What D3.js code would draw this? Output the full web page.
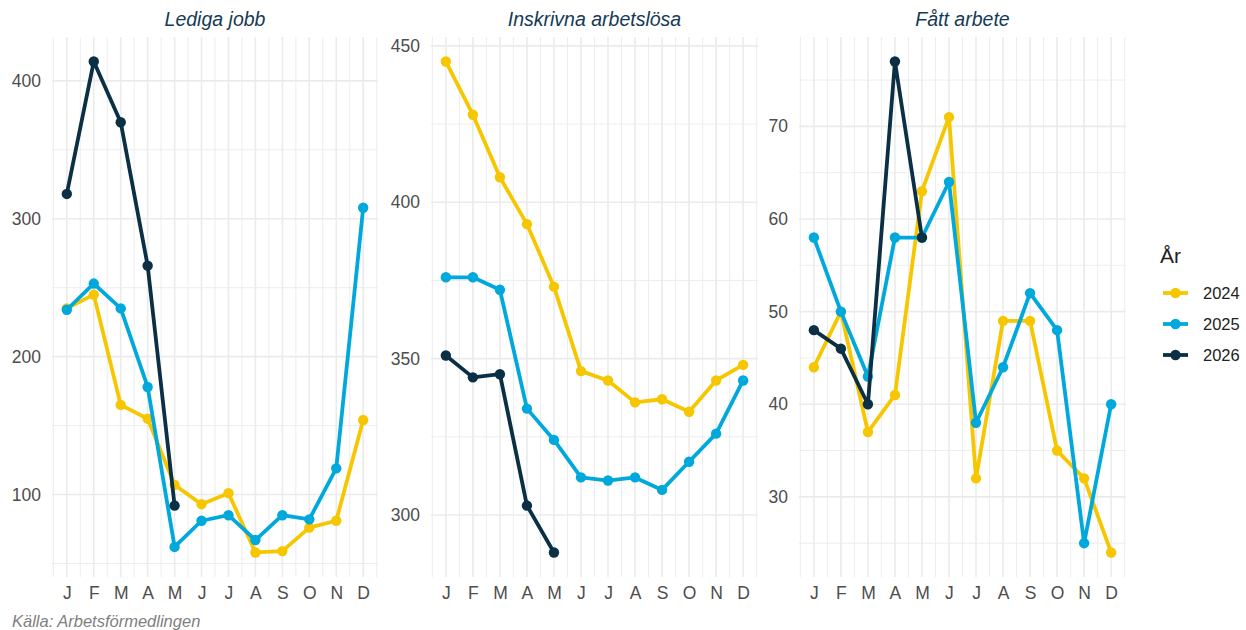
<!DOCTYPE html>
<html>
<head>
<meta charset="utf-8">
<script src="https://cdn.jsdelivr.net/npm/d3@7"></script>
<style>
  body { margin: 0; background: #fff; }
  svg { display: block; font-family: "Liberation Sans", Arial, sans-serif; }
</style>
</head>
<body>
<svg id="chart" width="1246" height="630"></svg>
<script>
const months = ['J', 'F', 'M', 'A', 'M', 'J', 'J', 'A', 'S', 'O', 'N', 'D'];
const years = ['2024', '2025', '2026'];
const colors = { '2024': '#F6C700', '2025': '#00A8DC', '2026': '#0B3045' };

// Lediga jobb
const ledigaJobb2024 = [235, 245, 165, 155, 107, 93, 101, 58, 59, 76, 81, 154];
const ledigaJobb2025 = [234, 253, 235, 178, 62, 81, 85, 67, 85, 82, 119, 308];
const ledigaJobb2026 = [318, 414, 370, 266, 92];
const ledigaJobbTicks = [100, 200, 300, 400];

// Inskrivna arbetslösa
const inskrivna2024 = [445, 428, 408, 393, 373, 346, 343, 336, 337, 333, 343, 348];
const inskrivna2025 = [376, 376, 372, 334, 324, 312, 311, 312, 308, 317, 326, 343];
const inskrivna2026 = [351, 344, 345, 303, 288];
const inskrivnaTicks = [300, 350, 400, 450];

// Fått arbete
const fattArbete2024 = [44, 50, 37, 41, 63, 71, 32, 49, 49, 35, 32, 24];
const fattArbete2025 = [58, 50, 43, 58, 58, 64, 38, 44, 52, 48, 25, 40];
const fattArbete2026 = [48, 46, 40, 77, 58];
const fattArbeteTicks = [30, 40, 50, 60, 70];

const panels = [
    { title: 'Lediga jobb', series: [ledigaJobb2024, ledigaJobb2025, ledigaJobb2026], ticks: ledigaJobbTicks, x0: 52, x1: 378 },
    { title: 'Inskrivna arbetslösa', series: [inskrivna2024, inskrivna2025, inskrivna2026], ticks: inskrivnaTicks, x0: 431, x1: 758 },
    { title: 'Fått arbete', series: [fattArbete2024, fattArbete2025, fattArbete2026], ticks: fattArbeteTicks, x0: 799, x1: 1126 }
];

const plotTop = 37, plotBottom = 577;
const grid = '#EBEBEB';
const svg = d3.select('#chart');

panels.forEach(p => {
    const all = p.series.flat();
    const [lo, hi] = d3.extent(all);
    const pad = (hi - lo) * 0.05;
    const y = d3.scaleLinear().domain([lo - pad, hi + pad]).range([plotBottom, plotTop]);
    const x = d3.scaleLinear().domain([0.45, 12.55]).range([p.x0, p.x1]);
    const g = svg.append('g');

    // minor grid
    const step = p.ticks[1] - p.ticks[0];
    const minorY = [p.ticks[0] - step / 2, ...p.ticks.map(t => t + step / 2)]
        .filter(v => v >= y.domain()[0] && v <= y.domain()[1]);
    const minorX = d3.range(0.5, 13, 1);
    g.selectAll('.minor-y').data(minorY).join('line')
        .attr('x1', p.x0).attr('x2', p.x1)
        .attr('y1', d => y(d)).attr('y2', d => y(d))
        .attr('stroke', grid).attr('stroke-width', 0.9);
    g.selectAll('.minor-x').data(minorX).join('line')
        .attr('x1', d => x(d)).attr('x2', d => x(d))
        .attr('y1', plotTop).attr('y2', plotBottom)
        .attr('stroke', grid).attr('stroke-width', 0.9);

    // major grid
    g.selectAll('.major-y').data(p.ticks).join('line')
        .attr('x1', p.x0).attr('x2', p.x1)
        .attr('y1', d => y(d)).attr('y2', d => y(d))
        .attr('stroke', grid).attr('stroke-width', 1.6);
    g.selectAll('.major-x').data(d3.range(1, 13)).join('line')
        .attr('x1', d => x(d)).attr('x2', d => x(d))
        .attr('y1', plotTop).attr('y2', plotBottom)
        .attr('stroke', grid).attr('stroke-width', 1.6);

    // axes labels
    const yAxis = g.append('g')
        .attr('transform', `translate(${p.x0},0)`)
        .call(d3.axisLeft(y).tickValues(p.ticks).tickSize(0).tickPadding(11));
    yAxis.select('.domain').remove();
    yAxis.selectAll('text').attr('font-size', 17.5).attr('fill', '#4D4D4D')
        .attr('font-family', '"Liberation Sans", Arial, sans-serif');

    const xAxis = g.append('g')
        .attr('transform', `translate(0,${plotBottom})`)
        .call(d3.axisBottom(x).tickValues(d3.range(1, 13)).tickFormat(d => months[d - 1]).tickSize(0).tickPadding(10));
    xAxis.select('.domain').remove();
    xAxis.selectAll('text').attr('font-size', 17.5).attr('fill', '#4D4D4D')
        .attr('font-family', '"Liberation Sans", Arial, sans-serif');

    // title
    g.append('text')
        .attr('x', (p.x0 + p.x1) / 2).attr('y', 26)
        .attr('text-anchor', 'middle')
        .attr('font-size', 19.5).attr('font-style', 'italic')
        .attr('fill', '#153A55')
        .text(p.title);

    // lines and points
    const line = d3.line().x((d, i) => x(i + 1)).y(d => y(d));
    p.series.forEach((vals, k) => {
        const c = colors[years[k]];
        g.append('path').datum(vals)
            .attr('d', line)
            .attr('fill', 'none')
            .attr('stroke', c)
            .attr('stroke-width', 3.8)
            .attr('stroke-linejoin', 'round');
        g.selectAll(null).data(vals).join('circle')
            .attr('cx', (d, i) => x(i + 1))
            .attr('cy', d => y(d))
            .attr('r', 5.2)
            .attr('fill', c);
    });
});

// legend
const legend = svg.append('g').attr('transform', 'translate(1160,0)');
legend.append('text')
    .attr('x', 0).attr('y', 263)
    .attr('font-size', 21).attr('fill', '#222')
    .text('År');
years.forEach((yr, i) => {
    const ly = 293 + i * 31;
    legend.append('line')
        .attr('x1', 3).attr('x2', 28).attr('y1', ly).attr('y2', ly)
        .attr('stroke', colors[yr]).attr('stroke-width', 3.8);
    legend.append('circle')
        .attr('cx', 15.5).attr('cy', ly).attr('r', 5.2).attr('fill', colors[yr]);
    legend.append('text')
        .attr('x', 43).attr('y', ly + 6)
        .attr('font-size', 16.5).attr('fill', '#222')
        .text(yr);
});

// caption
svg.append('text')
    .attr('x', 12).attr('y', 627)
    .attr('font-size', 16.5).attr('font-style', 'italic')
    .attr('fill', '#808080')
    .text('Källa: Arbetsförmedlingen');
</script>
</body>
</html>
